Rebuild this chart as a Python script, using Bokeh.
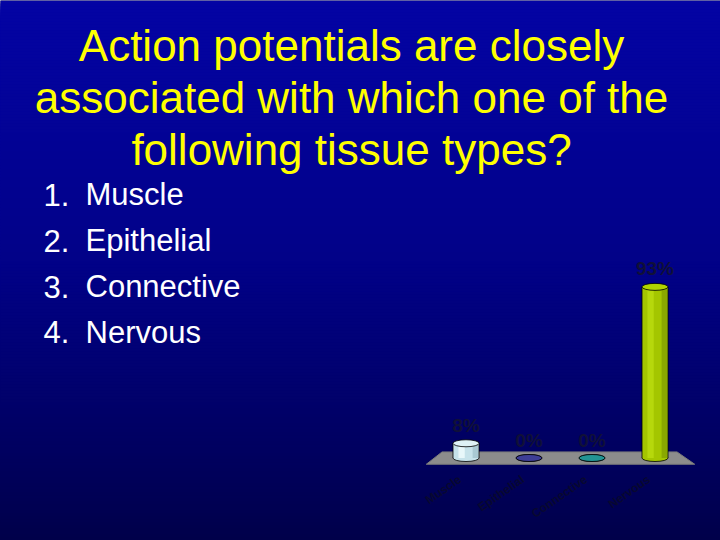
import numpy as np
from bokeh.plotting import figure
from bokeh.models import Range1d
from bokeh.core.properties import value
from bokeh.embed import file_html
from bokeh.resources import INLINE

# ---------------- data ----------------
title_lines = ["Action potentials are closely",
               "associated with which one of the",
               "following tissue types?"]
option_numbers = ["1.", "2.", "3.", "4."]
options = ["Muscle", "Epithelial", "Connective", "Nervous"]

categories = ["Muscle", "Epithelial", "Connective", "Nervous"]
percent = [8, 0, 0, 93]
percent_labels = ["8%", "0%", "0%", "93%"]

# ---------------- styles ----------------
bar_colors = ["#c6e2ea", "#38388a", "#1a8282", "#a4c600"]
top_colors = ["#dff2f6", "#3e3e96", "#229494", "#b0d200"]
light_colors = ["#e8f7fa", "#38388a", "#1a8282", "#b6d80c"]
dark_colors = ["#a9c9d3", "#38388a", "#1a8282", "#8aa800"]

W, H, OFF = 720, 540, 0
FONT = "Liberation Sans"

p = figure(width=W, height=H, output_backend="svg", toolbar_location=None,
           x_range=Range1d(OFF, OFF + W), y_range=Range1d(OFF + H, OFF),
           min_border=0, outline_line_color=None, border_fill_color="#00004c",
           background_fill_color="#00004c")
p.axis.visible = False
p.grid.visible = False

# background vertical gradient (decoration): overlapping bands, no seams
edges = np.arange(0, 540, 3)
blue = np.interp(edges, [0, 260, 450, 540], [164, 136, 96, 74])
rg = np.interp(edges, [0, 260, 540], [4, 2, 0])
bg = ["#%02x%02x%02x" % (int(a), int(a), int(b)) for a, b in zip(rg, blue)]
p.quad(left=-5, right=725, top=edges, bottom=[545] * len(edges),
       fill_color=bg, line_color=None)

# title
p.text(x=[351] * 3, y=[45, 97, 149], text=title_lines, text_align="center",
       text_baseline="alphabetic", text_color="#ffff00",
       text_font=value(FONT), text_font_size="44px")

# options list
ys = [194, 240, 286, 331.5]
p.text(x=[43] * 4, y=ys, text=option_numbers, text_align="left",
       text_baseline="alphabetic", text_color="white",
       text_font=value(FONT), text_font_size="31px")
p.text(x=[85] * 4, y=ys, text=options, text_align="left",
       text_baseline="alphabetic", text_color="white",
       text_font=value(FONT), text_font_size="31px")

# ---------------- bar chart ----------------
first_center_px, step_px = 465.5, 63.0
zero_px, px_per_pct = 457.5, 1.84
xs = -(first_center_px - OFF) / step_px
ys0 = (zero_px - (OFF + H)) / px_per_pct
p.extra_x_ranges = {"bars": Range1d(xs, xs + W / step_px)}
p.extra_y_ranges = {"pct": Range1d(ys0, ys0 + H / px_per_pct)}
R = dict(x_range_name="bars", y_range_name="pct")

idx = list(range(len(categories)))
bw = 26 / step_px

# floor
p.patch(x=[-0.63, 3.63, 3.35, -0.38], y=[-3.4, -3.4, 3.3, 3.3],
        fill_color="#8c8c8c", line_color="#7a7a7a", **R)

# bottom ellipses
p.ellipse(x=idx, y=[0] * 4, width=26, height=7, width_units="screen",
          height_units="screen", fill_color=bar_colors, line_color="black",
          line_width=0.8, **R)
# bodies
p.vbar(x=idx, top=percent, bottom=0, width=bw, fill_color=bar_colors,
       line_color=None, **R)
p.vbar(x=[i - 0.07 for i in idx], top=percent, bottom=0, width=0.1,
       fill_color=light_colors, line_color=None, **R)
p.vbar(x=[i + 0.15 for i in idx], top=percent, bottom=0, width=0.09,
       fill_color=dark_colors, line_color=None, **R)
p.segment(x0=[i - bw / 2 for i in idx], y0=[0] * 4,
          x1=[i - bw / 2 for i in idx], y1=percent, line_color="black",
          line_width=0.8, **R)
p.segment(x0=[i + bw / 2 for i in idx], y0=[0] * 4,
          x1=[i + bw / 2 for i in idx], y1=percent, line_color="black",
          line_width=0.8, **R)
# top ellipses
p.ellipse(x=idx, y=percent, width=26, height=7, width_units="screen",
          height_units="screen", fill_color=top_colors, line_color="black",
          line_width=0.8, **R)

# value labels
p.text(x=idx, y=percent, text=percent_labels, y_offset=-18,
       text_align="center", text_baseline="middle", text_color="#101038",
       text_font=value(FONT), text_font_style="bold",
       text_font_size="19px", **R)

# category labels
p.text(x=idx, y=[0] * 4, text=categories, angle=0.61, x_offset=-6,
       y_offset=20, text_align="right", text_baseline="middle",
       text_color="#080830", text_font=value(FONT), text_font_style="bold",
       text_font_size="12px", **R)

open("out.html", "w").write(file_html(p, INLINE))
